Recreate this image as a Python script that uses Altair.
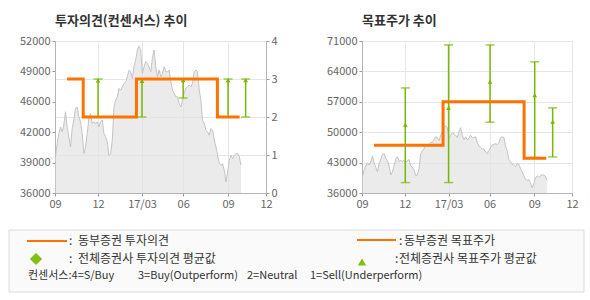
import altair as alt
import pandas as pd

FONT = "Noto Sans CJK KR"
ORANGE = "#ff7200"
GREEN = "#77b800"
AREA_FILL = "#e2e2e2"
AREA_LINE = "#c4c4c4"
FRAME = "#b4b4b4"
GRID = "#e6e6e6"

# ---- data ---------------------------------------------------------------
price_start = "2016-09-02"
price_end = "2017-10-08"
prices = [
    39800, 41200, 42260, 42960, 42440, 43140, 44550, 42960, 41900, 40850,
    42790, 43670, 44900, 45070, 44020, 43490, 42260, 40150, 40850, 42260,
    43840, 44370, 43310, 43490, 43310, 43490, 42960, 43490, 43670, 42260,
    41900, 41380, 39970, 40150, 41560, 45070, 45780, 46130, 47010, 46830,
    47180, 47530, 47710, 48240, 48940, 48770, 48060, 49290, 50000, 51050,
    51470, 51050, 48590, 49290, 49820, 49640, 49290, 48770, 50170, 51050,
    49290, 48240, 48940, 48240, 48590, 49290, 48770, 48770, 48940, 47710,
    46830, 46480, 46130, 46130, 45420, 45070, 45780, 46480, 47010, 47180,
    47360, 47180, 47530, 48770, 48940, 48770, 46830, 45780, 43670, 43310,
    42610, 42440, 42080, 42790, 42610, 41560, 40850, 39970, 39090, 38920,
    39090, 38390, 37160, 38220, 39450, 39970, 39620, 39970, 40150, 40150,
    39800, 38920,
]

# 동부증권 투자의견 (step)
op_dates = ["2016-09-27", "2016-11-01", "2017-02-24", "2017-08-18", "2017-10-05"]
op_values = [3, 2, 3, 2, 2]

# 전체증권사 투자의견
cons_op_dates = ["2016-12-03", "2017-03-08", "2017-06-05", "2017-09-10", "2017-10-18"]
cons_op_low = [2, 2, 2.5, 2, 2]
cons_op_high = [3, 3, 3, 3, 3]
cons_op_mean = [2.96, 2.95, 2.97, 2.97, 2.97]

# 동부증권 목표주가 (step)
tp_dates = ["2016-09-27", "2017-02-24", "2017-08-19", "2017-10-06"]
tp_values = [47000, 57000, 44000, 44000]

# 전체증권사 목표주가
cons_tp_dates = ["2016-12-04", "2017-03-08", "2017-06-06", "2017-09-11", "2017-10-20"]
cons_tp_low = [38400, 38400, 52300, 44200, 44300]
cons_tp_high = [60200, 70100, 70100, 66200, 55600]
cons_tp_mean = [51700, 55600, 61600, 58500, 52400]

left_ticks = [36000, 39200, 42400, 45600, 48800, 52000]
right_ticks = [0, 1, 2, 3, 4]
tp_ticks = [36000, 43000, 50000, 57000, 64000, 71000]

titles = ["투자의견(컨센서스) 추이", "목표주가 추이"]
legend_labels = ["동부증권 투자의견", "전체증권사 투자의견 평균값",
                 "동부증권 목표주가", "전체증권사 목표주가 평균값"]
consensus_notes = ["컨센서스:4=S/Buy", "3=Buy(Outperform)", "2=Neutral",
                   "1=Sell(Underperform)"]

# ---- frames -------------------------------------------------------------
price_df = pd.DataFrame({
    "date": pd.date_range(price_start, price_end, periods=len(prices)),
    "price": prices,
})
op_df = pd.DataFrame({"date": pd.to_datetime(op_dates), "v": op_values})
cop_df = pd.DataFrame({"date": pd.to_datetime(cons_op_dates), "lo": cons_op_low,
                       "hi": cons_op_high, "mean": cons_op_mean})
tp_df = pd.DataFrame({"date": pd.to_datetime(tp_dates), "v": tp_values})
ctp_df = pd.DataFrame({"date": pd.to_datetime(cons_tp_dates), "lo": cons_tp_low,
                       "hi": cons_tp_high, "mean": cons_tp_mean})

W, H = 211, 152

x_ticks = [alt.DateTime(year=2016, month=9, date=1),
           alt.DateTime(year=2016, month=12, date=3),
           alt.DateTime(year=2017, month=3, date=8),
           alt.DateTime(year=2017, month=6, date=5),
           alt.DateTime(year=2017, month=9, date=10),
           alt.DateTime(year=2017, month=12, date=1)]


def xenc():
    return alt.X(
        "date:T",
        scale=alt.Scale(domain=[alt.DateTime(year=2016, month=9, date=1),
                                alt.DateTime(year=2017, month=12, date=1)]),
        axis=alt.Axis(values=x_ticks, title=None, grid=True,
                      labelExpr="month(datum.value) == 2 ? '17/03' : timeFormat(datum.value, '%m')",
                      labelFlush=False, labelOverlap=False, labelPadding=2,
                      tickSize=3),
    )


def area_layer(scale, axis):
    return alt.Chart(price_df).mark_area(
        color=AREA_FILL, clip=True,
        line={"color": AREA_LINE, "strokeWidth": 1},
    ).encode(x=xenc(), y=alt.Y("price:Q", scale=scale, axis=axis))


def consensus_layers(df, scale, axis, shape):
    y = lambda f: alt.Y(f, scale=scale, axis=axis)
    base = alt.Chart(df)
    rule = base.mark_rule(color=GREEN, strokeWidth=1.5).encode(
        x=xenc(), y=y("lo:Q"), y2="hi:Q")
    cap_lo = base.mark_tick(orient="horizontal", color=GREEN, size=9,
                            thickness=1.5).encode(x=xenc(), y=y("lo:Q"))
    cap_hi = base.mark_tick(orient="horizontal", color=GREEN, size=9,
                            thickness=1.5).encode(x=xenc(), y=y("hi:Q"))
    pts = base.mark_point(shape=shape, filled=True, color=GREEN, size=22,
                          opacity=1).encode(x=xenc(), y=y("mean:Q"))
    return [rule, cap_lo, cap_hi, pts]


def step_layer(df, scale, axis):
    return alt.Chart(df).mark_line(
        interpolate="step-after", color=ORANGE, strokeWidth=3
    ).encode(x=xenc(), y=alt.Y("v:Q", scale=scale, axis=axis))


def title(t):
    return alt.TitleParams(t, anchor="start", frame="group", fontSize=13,
                           fontWeight="bold", font=FONT, color="#333333",
                           offset=7)


# left panel
price_scale_l = alt.Scale(domain=[36000, 52000], zero=False, nice=False)
price_axis_l = alt.Axis(values=left_ticks, grid=False, orient="left",
                        labelExpr="format(round(datum.value/1000)*1000, 'd')",
                        title=None, tickSize=3, labelPadding=2)
op_scale = alt.Scale(domain=[0, 4], nice=False)
op_axis = alt.Axis(values=right_ticks, grid=True, orient="right", title=None,
                   tickSize=3, labelPadding=2, format="d")

left = alt.layer(
    area_layer(price_scale_l, price_axis_l),
    alt.layer(*consensus_layers(cop_df, op_scale, op_axis, "triangle-up"),
              step_layer(op_df, op_scale, op_axis)),
).resolve_scale(y="independent").properties(width=W, height=H,
                                            title=title(titles[0]))

# right panel
price_scale_r = alt.Scale(domain=[36000, 71000], zero=False, nice=False)
price_axis_r = alt.Axis(values=tp_ticks, grid=True, orient="left", title=None,
                        tickSize=3, labelPadding=2, format="d")

right = alt.layer(
    area_layer(price_scale_r, price_axis_r),
    *consensus_layers(ctp_df, price_scale_r, price_axis_r, "triangle-up"),
    step_layer(tp_df, price_scale_r, price_axis_r),
).properties(width=W - 1, height=H, title=title(titles[1]))

# legend box (origin is aligned with the left plot's origin; box starts 46px left)
OX = -46
LW, LH = 575, 62
lbase = alt.Chart(pd.DataFrame({"k": [0]}))


def txt(s, x, y, size=12):
    return lbase.mark_text(align="left", baseline="middle", font=FONT,
                           fontSize=size, color="#333333").encode(
        x=alt.value(OX + x), y=alt.value(y), text=alt.value(s))


legend_layers = [
    lbase.mark_rect(fill="#fafafa", stroke="#dcdcdc", strokeWidth=1).encode(
        x=alt.value(OX), x2=alt.value(OX + LW), y=alt.value(0), y2=alt.value(LH)),
    lbase.mark_rule(color=ORANGE, strokeWidth=2).encode(
        x=alt.value(OX + 18), x2=alt.value(OX + 58), y=alt.value(11)),
    txt(":", 60, 11), txt(legend_labels[0], 69, 11),
    lbase.mark_point(shape="diamond", filled=True, color="#80c010", size=150,
                     opacity=1).encode(x=alt.value(OX + 27), y=alt.value(29)),
    txt(":", 60, 29), txt(legend_labels[1], 69, 29),
    lbase.mark_rule(color=ORANGE, strokeWidth=2).encode(
        x=alt.value(OX + 348), x2=alt.value(OX + 387), y=alt.value(10)),
    txt(":", 390, 11), txt(legend_labels[2], 395, 11),
    lbase.mark_point(shape="triangle-up", filled=True, color="#80c010", size=70,
                     opacity=1).encode(x=alt.value(OX + 353), y=alt.value(32)),
    txt(":", 386, 29), txt(legend_labels[3], 390, 29),
    txt(consensus_notes[0], 19, 46, 11), txt(consensus_notes[1], 129, 46, 11),
    txt(consensus_notes[2], 238, 46, 11), txt(consensus_notes[3], 301, 46, 11),
]
legend = alt.layer(*legend_layers).properties(
    width=LW + OX, height=LH, view=alt.ViewBackground(stroke=None))

chart = alt.vconcat(
    alt.hconcat(left, right, spacing=47),
    legend, spacing=19,
).properties(
    padding={"left": 8, "top": 14, "right": 0, "bottom": 0},
    background="white",
).configure_view(
    stroke=FRAME, strokeWidth=1,
).configure_axis(
    labelFont=FONT, labelFontSize=11, labelColor="#666666",
    domainColor=FRAME, tickColor="#999999", gridColor=GRID,
)

chart.save("out.html", embed_options={"renderer": "svg", "actions": False})
